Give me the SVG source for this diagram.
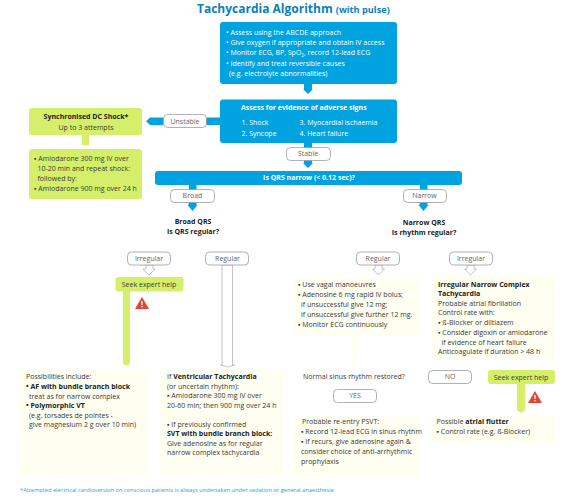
<svg xmlns="http://www.w3.org/2000/svg" width="585" height="498" viewBox="0 0 585 498">
<style>
text{font-family:"Open Sans","Noto Sans","Liberation Sans",sans-serif;font-size:7px;fill:#3a3a3a}
.w{fill:#fff}.wb{fill:#fff;font-weight:700}.b{font-weight:700;fill:#222}.c{text-anchor:middle}
.blue{fill:#00a3e0}.green{fill:#d5ef6b}.cream{fill:#fefef1}
.pill{fill:#fff;stroke:#8f8f9a;stroke-width:.7}
.lab{text-anchor:middle;fill:#666}
.hollow{fill:#fff;stroke:#9a9a9a;stroke-width:.6}
</style>
<rect width="585" height="498" fill="#fff"/>
<g id="title"><text x="197" y="13" style="font-size:12px;font-weight:700;fill:#0a7fbd">Tachycardia Algorithm <tspan style="font-size:9.200px">(with pulse)</tspan></text></g>
<g id="connectors">
<path class="blue" d="M304 84h8v5h1l-5 5l-5-5h1zM304 143h8v5h-8zM304 160h8v3h1l-5 5l-5-5h1zM189 185h7.500v5h-7.500zM189 202h7.500v3h1l-5 6l-5-6h1zM420 185h7.500v5h-7.500zM420 202h7.500v3h1l-5 6l-5-6h1zM206 117.500h14v7.500h-14zM163.500 117.500h-13.500l-4 3.750l4 3.750h13.500z"/>
<path class="green" d="M82 135h7v10h-7zM123 291h7v71a3.500 3.500 0 0 1-7 0zM517 384h8v26l-4 3l-4-3z"/>
<path class="hollow" d="M146 265h7v4h2l-6 6l-6-6h3zM222 265h10.500v100h2l-7 2l-7-2h1.500zM375 265h7v4h2.500l-6 6l-6-6h2.500zM467 265h7v4h2.500l-6 6l-6-6h2.500z"/>
<path class="cream" d="M352 335h6v30h-6z"/>
</g>
<g id="n-assess"><rect class="blue" x="220" y="22" width="177" height="62" rx="3"/>
<text class="w" x="226" y="34.500">• Assess using the ABCDE approach</text>
<text class="w" x="226" y="45">• Give oxygen if appropriate and obtain IV access</text>
<text class="w" x="226" y="55">• Monitor ECG, BP, SpO<tspan dy="1.500" style="font-size:4.500px">2</tspan><tspan dy="-1.500">, record 12-lead ECG</tspan></text>
<text class="w" x="226" y="65.500">• Identify and treat reversible causes</text>
<text class="w" x="229" y="75.500">(e.g. electrolyte abnormalities)</text></g>
<g id="n-adverse"><rect class="blue" x="220" y="99.500" width="177" height="43.500" rx="3"/>
<text class="wb" x="241" y="110">Assess for evidence of adverse signs</text>
<text class="w" x="241.500" y="125">1. Shock</text><text class="w" x="241.500" y="135.500">2. Syncope</text>
<text class="w" x="299.500" y="125">3. Myocardial ischaemia</text><text class="w" x="299.500" y="135.500">4. Heart failure</text></g>
<g id="n-unstable"><rect class="pill" x="163.500" y="114.500" width="43" height="13" rx="4"/><text class="lab" x="185" y="123.500">Unstable</text></g>
<g id="n-stable"><rect class="pill" x="286.500" y="147.500" width="44" height="13" rx="4"/><text class="lab" x="308" y="156">Stable</text></g>
<g id="n-shock"><rect class="green" x="29" y="108" width="113" height="27" rx="3"/>
<text class="b c" x="86" y="119">Synchronised DC Shock*</text><text class="c" x="86" y="129.500">Up to 3 attempts</text></g>
<g id="n-amio"><rect class="green" x="29" y="149" width="113" height="50" rx="3"/>
<text x="34" y="160.500">▪ Amiodarone 300 mg IV over</text><text x="37.500" y="170.500">10-20 min and repeat shock:</text><text x="37.500" y="181">followed by:</text><text x="34" y="191">▪ Amiodarone 900 mg over 24 h</text></g>
<g id="n-qrs"><rect class="blue" x="155" y="171" width="307" height="14" rx="3"/><text class="wb c" x="309" y="180">Is QRS narrow (&lt; 0.12 sec)?</text></g>
<g id="n-broad"><rect class="pill" x="170.500" y="189.500" width="44" height="13" rx="4"/><text class="lab" x="192.500" y="198">Broad</text></g>
<g id="n-narrow"><rect class="pill" x="403.500" y="189.500" width="43" height="13" rx="4"/><text class="lab" x="424.500" y="198">Narrow</text></g>
<g id="n-broadq"><text class="b c" x="193" y="224">Broad QRS</text><text class="b c" x="193" y="234">Is QRS regular?</text></g>
<g id="n-narrowq"><text class="b c" x="424" y="225">Narrow QRS</text><text class="b c" x="424" y="235">Is rhythm regular?</text></g>
<g id="n-irr1"><rect class="pill" x="127.500" y="252" width="43" height="13" rx="4"/><text class="lab" x="149" y="260.500">Irregular</text></g>
<g id="n-reg1"><rect class="pill" x="205.500" y="252" width="43" height="13" rx="4"/><text class="lab" x="227.500" y="260.500">Regular</text></g>
<g id="n-reg2"><rect class="pill" x="356.500" y="252" width="43" height="13" rx="4"/><text class="lab" x="378" y="260.500">Regular</text></g>
<g id="n-irr2"><rect class="pill" x="449.500" y="252" width="43" height="13" rx="4"/><text class="lab" x="471" y="260.500">Irregular</text></g>
<g id="n-seek1"><rect class="green" x="115.500" y="277" width="68" height="14.500" rx="3"/><text class="c" x="149" y="287">Seek expert help</text></g>
<g id="n-warn1"><path fill="#e8432e" d="M142 297l7 12h-14z"/><path stroke="#fff" stroke-width="1.400" d="M142 301v4M142 306v1.200"/></g>
<g id="n-poss"><rect class="cream" x="20" y="370" width="125" height="105"/>
<text x="26" y="379">Possibilities include:</text>
<text x="26" y="389"><tspan class="b">• AF with bundle branch block</tspan></text>
<text x="29" y="398.500">treat as for narrow complex</text>
<text x="26" y="407.500"><tspan class="b">• Polymorphic VT</tspan></text>
<text x="29" y="417.500">(e.g. torsades de pointes -</text>
<text x="29" y="426.500">give magnesium 2 g over 10 min)</text></g>
<g id="n-vt"><rect class="cream" x="160" y="370" width="123" height="105"/>
<text x="167" y="379">If <tspan class="b">Ventricular Tachycardia</tspan></text>
<text x="167" y="388.500">(or uncertain rhythm):</text>
<text x="167" y="398">▪ Amiodarone 300 mg IV over</text>
<text x="167" y="407.500">20-60 min; then 900 mg over 24 h</text>
<text x="167" y="426.500">▪ If previously confirmed</text>
<text class="b" x="167" y="436">SVT with bundle branch block:</text>
<text x="167" y="445.500">Give adenosine as for regular</text>
<text x="167" y="454.500">narrow complex tachycardia</text></g>
<g id="n-vagal"><rect class="cream" x="293" y="278" width="124" height="57"/>
<text x="298" y="287">▪ Use vagal manoeuvres</text>
<text x="298" y="297">▪ Adenosine 6 mg rapid IV bolus;</text>
<text x="301" y="307">if unsuccessful give 12 mg;</text>
<text x="301" y="317">if unsuccessful give further 12 mg.</text>
<text x="298" y="327">▪ Monitor ECG continuously</text></g>
<g id="n-inarrow"><rect class="cream" x="432" y="275" width="123" height="85"/>
<text class="b" x="438" y="287">Irregular Narrow Complex</text>
<text class="b" x="438" y="296">Tachycardia</text>
<text x="438" y="305.500">Probable atrial fibrillation</text>
<text x="438" y="314.500">Control rate with:</text>
<text x="438" y="325">▪ ß-Blocker or diltiazem</text>
<text x="438" y="335">▪ Consider digoxin or amiodarone</text>
<text x="441.500" y="344.500">if evidence of heart failure</text>
<text x="438" y="354">Anticoagulate if duration &gt; 48 h</text></g>
<g id="n-nsr"><text x="303" y="379">Normal sinus rhythm restored?</text></g>
<g id="n-no"><rect class="pill" x="428.500" y="370.500" width="43" height="13" rx="4"/><text class="lab" x="450" y="379">NO</text></g>
<g id="n-yes"><rect class="pill" x="333.500" y="389.500" width="43" height="13" rx="4"/><text class="lab" x="355" y="398">YES</text></g>
<g id="n-seek2"><rect class="green" x="488" y="370" width="67" height="14" rx="3"/><text class="c" x="521" y="379.500">Seek expert help</text></g>
<g id="n-warn2"><path fill="#e8432e" d="M535 391l7 12h-14z"/><path stroke="#fff" stroke-width="1.400" d="M535 395v4M535 400v1.200"/></g>
<g id="n-psvt"><rect class="cream" x="293" y="416" width="127" height="62"/>
<text x="302" y="423.500">Probable re-entry PSVT:</text>
<text x="301" y="434">▪ Record 12-lead ECG in sinus rhythm</text>
<text x="301" y="444">▪ If recurs, give adenosine again &amp;</text>
<text x="301" y="454">consider choice of anti-arrhythmic</text>
<text x="301" y="463.500">prophylaxis</text></g>
<g id="n-flutter"><rect class="cream" x="432" y="416" width="123" height="27"/>
<text x="436.500" y="423.500">Possible <tspan class="b">atrial flutter</tspan></text>
<text x="436.500" y="434">▪ Control rate (e.g. ß-Blocker)</text></g>
<g id="footnote"><text x="20" y="492" style="font-size:5.700px;fill:#2a9fd8">*Attempted electrical cardioversion on conscious patients is always undertaken under sedation or general anaesthesia</text></g>
</svg>
